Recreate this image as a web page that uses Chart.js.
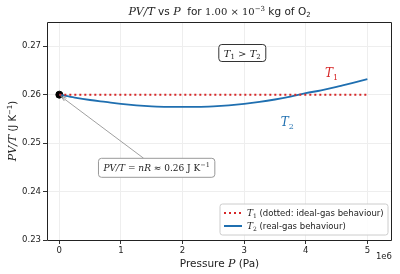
<!DOCTYPE html>
<html lang="en">
<head>
    <meta charset="UTF-8">
    <title>PV/T vs P for O2</title>
    <script src="https://cdn.jsdelivr.net/npm/chart.js"></script>
    <style>
        html, body { margin: 0; padding: 0; background: #fff; }
        #wrap { width: 400px; height: 274px; }
    </style>
</head>
<body>
    <div id="wrap"><canvas id="pvt-chart"></canvas></div>

    <script>
        // Data
        const pressure = [0, 0.25e6, 0.5e6, 0.75e6, 1e6, 1.25e6, 1.5e6, 1.75e6, 2e6, 2.25e6, 2.5e6,
                          2.75e6, 3e6, 3.25e6, 3.5e6, 3.75e6, 4e6, 4.25e6, 4.5e6, 4.75e6, 5e6];
        const pvtReal = [0.2600, 0.2594, 0.2589, 0.2585, 0.2581, 0.2578, 0.2576, 0.2575, 0.2575, 0.2575, 0.2576,
                         0.2578, 0.2581, 0.2585, 0.2590, 0.2596, 0.2603, 0.2609, 0.2616, 0.2624, 0.2632];
        const idealP = [0, 5e6];
        const idealPVT = [0.26, 0.26];
        const xTicks = [0, 1e6, 2e6, 3e6, 4e6, 5e6];
        const yTicks = [0.23, 0.24, 0.25, 0.26, 0.27];

        const RED = '#d62728';
        const BLUE = '#1f6fb0';
        const SANS = '"DejaVu Sans", sans-serif';
        const SERIF = '"DejaVu Serif", serif';

        // draw a list of text runs: [text, font, dy]
        function drawRuns(ctx, runs, x, y, align, color) {
            let w = 0;
            runs.forEach(r => { ctx.font = r[1]; w += ctx.measureText(r[0]).width; });
            let cx = align === 'center' ? x - w / 2 : (align === 'right' ? x - w : x);
            ctx.fillStyle = color || '#222';
            ctx.textBaseline = 'alphabetic';
            ctx.textAlign = 'left';
            runs.forEach(r => {
                ctx.font = r[1];
                ctx.fillText(r[0], cx, y + (r[2] || 0));
                cx += ctx.measureText(r[0]).width;
            });
            return w;
        }

        function roundBox(ctx, x, y, w, h, r) {
            ctx.beginPath();
            ctx.moveTo(x + r, y);
            ctx.arcTo(x + w, y, x + w, y + h, r);
            ctx.arcTo(x + w, y + h, x, y + h, r);
            ctx.arcTo(x, y + h, x, y, r);
            ctx.arcTo(x, y, x + w, y, r);
            ctx.closePath();
        }

        const decor = {
            id: 'decor',
            afterDraw(chart) {
                const ctx = chart.ctx;
                const a = chart.chartArea;
                const xs = chart.scales.x, ys = chart.scales.y;
                ctx.save();
                ctx.setLineDash([]);

                // frame
                const fl = Math.round(a.left) + 0.5, ft = Math.round(a.top) + 0.5;
                const fr = Math.round(a.right) - 0.5, fb = Math.round(a.bottom) + 0.5;
                ctx.strokeStyle = '#222';
                ctx.lineWidth = 1;
                ctx.beginPath();
                ctx.moveTo(fl, ft);
                ctx.lineTo(fr, ft);
                ctx.lineTo(fr, fb);
                ctx.lineTo(fl, fb);
                ctx.closePath();
                ctx.stroke();

                // title
                const it = 'italic 11px ' + SERIF;
                drawRuns(ctx, [
                    ['PV/T', it], [' vs ', '10.5px ' + SANS], ['P', it], ['  for ', '10.5px ' + SANS],
                    ['1.00 \u00d7 10', '10px ' + SERIF], ['\u22123', '7px ' + SERIF, -4],
                    [' kg of O', '10.5px ' + SANS], ['2', '7px ' + SANS, 2]
                ], (a.left + a.right) / 2, 15, 'center', '#222');

                // x label
                drawRuns(ctx, [['Pressure ', '10.5px ' + SANS], ['P', it], [' (Pa)', '10.5px ' + SANS]],
                    (a.left + a.right) / 2, 267, 'center', '#222');
                ctx.font = '8.5px ' + SANS;
                ctx.fillStyle = '#222';
                ctx.textAlign = 'right';
                ctx.fillText('1e6', a.right, 259);

                // y label
                ctx.save();
                ctx.translate(16, (a.top + a.bottom) / 2);
                ctx.rotate(-Math.PI / 2);
                drawRuns(ctx, [['PV/T', it], [' (J K', '10px ' + SANS], ['\u22121', '7px ' + SANS, -4], [')', '10px ' + SANS]],
                    0, 0, 'center', '#222');
                ctx.restore();

                // nR annotation with arrow
                const px = xs.getPixelForValue(0), py = ys.getPixelForValue(0.26);
                const bx = xs.getPixelForValue(1.58e6), by = ys.getPixelForValue(0.2448);
                ctx.strokeStyle = '#888';
                ctx.lineWidth = 0.8;
                ctx.beginPath();
                ctx.moveTo(bx - 13, by - 10);
                ctx.lineTo(px + 2, py + 2);
                ctx.stroke();
                const ang = Math.atan2((by - 10) - py, (bx - 13) - px);
                ctx.beginPath();
                ctx.moveTo(px + 1.5, py + 1.5);
                ctx.lineTo(px + 1.5 + 6 * Math.cos(ang + 0.3), py + 1.5 + 6 * Math.sin(ang + 0.3));
                ctx.moveTo(px + 1.5, py + 1.5);
                ctx.lineTo(px + 1.5 + 6 * Math.cos(ang - 0.3), py + 1.5 + 6 * Math.sin(ang - 0.3));
                ctx.stroke();

                const mi = 'italic 9px ' + SERIF, mr = '9px ' + SERIF;
                const nrRuns = [['PV/T', mi], [' = ', mr], ['nR', mi], [' \u2248 0.26 J K', mr], ['\u22121', '6.5px ' + SERIF, -4]];
                let w = 0;
                nrRuns.forEach(r => { ctx.font = r[1]; w += ctx.measureText(r[0]).width; });
                roundBox(ctx, bx - w / 2 - 5, by - 10, w + 10, 19, 3);
                ctx.fillStyle = '#fff';
                ctx.fill();
                ctx.strokeStyle = '#999';
                ctx.lineWidth = 1;
                ctx.stroke();
                drawRuns(ctx, nrRuns, bx, by + 3, 'center', '#222');

                // T1 > T2 box
                const tx = xs.getPixelForValue(2.97e6), ty = ys.getPixelForValue(0.2686);
                const tRuns = [['T', 'italic 10px ' + SERIF], ['1', '7px ' + SERIF, 2], [' > ', '10px ' + SERIF],
                               ['T', 'italic 10px ' + SERIF], ['2', '7px ' + SERIF, 2]];
                w = 0;
                tRuns.forEach(r => { ctx.font = r[1]; w += ctx.measureText(r[0]).width; });
                roundBox(ctx, tx - w / 2 - 5, ty - 8.5, w + 10, 17, 3);
                ctx.fillStyle = '#fff';
                ctx.fill();
                ctx.strokeStyle = '#333';
                ctx.lineWidth = 1;
                ctx.stroke();
                drawRuns(ctx, tRuns, tx, ty + 3.5, 'center', '#222');

                // curve labels
                drawRuns(ctx, [['T', 'italic 12px ' + SERIF], ['1', '8px ' + SERIF, 3]],
                    xs.getPixelForValue(4.42e6), ys.getPixelForValue(0.2637), 'center', RED);
                drawRuns(ctx, [['T', 'italic 12px ' + SERIF], ['2', '8px ' + SERIF, 3]],
                    xs.getPixelForValue(3.7e6), ys.getPixelForValue(0.2535), 'center', BLUE);

                // legend
                const lx = a.right - 172, ly = a.bottom - 36;
                roundBox(ctx, lx, ly, 168, 31, 2.5);
                ctx.fillStyle = 'rgba(255,255,255,0.85)';
                ctx.fill();
                ctx.strokeStyle = '#ccc';
                ctx.lineWidth = 1;
                ctx.stroke();
                ctx.lineWidth = 2;
                ctx.strokeStyle = RED;
                ctx.setLineDash([2, 3]);
                ctx.beginPath();
                ctx.moveTo(lx + 4, ly + 9);
                ctx.lineTo(lx + 22, ly + 9);
                ctx.stroke();
                ctx.setLineDash([]);
                ctx.strokeStyle = BLUE;
                ctx.beginPath();
                ctx.moveTo(lx + 4, ly + 22);
                ctx.lineTo(lx + 22, ly + 22);
                ctx.stroke();
                const lf = '8.5px ' + SANS;
                drawRuns(ctx, [['T', 'italic 9px ' + SERIF], ['1', '6px ' + SERIF, 2], [' (dotted: ideal-gas behaviour)', lf]],
                    lx + 27, ly + 12, 'left', '#222');
                drawRuns(ctx, [['T', 'italic 9px ' + SERIF], ['2', '6px ' + SERIF, 2], [' (real-gas behaviour)', lf]],
                    lx + 27, ly + 25, 'left', '#222');

                ctx.restore();
            }
        };

        new Chart(document.getElementById('pvt-chart'), {
            type: 'scatter',
            data: {
                datasets: [
                    {
                        data: idealP.map((p, i) => ({ x: p, y: idealPVT[i] })),
                        showLine: true, borderColor: RED, borderWidth: 2,
                        borderDash: [2, 3], pointRadius: 0
                    },
                    {
                        data: pressure.map((p, i) => ({ x: p, y: pvtReal[i] })),
                        showLine: true, borderColor: BLUE, borderWidth: 1.8,
                        cubicInterpolationMode: 'monotone', pointRadius: 0
                    },
                    {
                        data: [{ x: 0, y: 0.26 }],
                        pointRadius: 3.5, backgroundColor: '#000', borderColor: '#000'
                    }
                ]
            },
            options: {
                responsive: true,
                maintainAspectRatio: false,
                animation: false,
                layout: { padding: { left: 0, right: 8, top: 22, bottom: 0 } },
                plugins: { legend: { display: false }, tooltip: { enabled: false } },
                scales: {
                    x: {
                        type: 'linear', min: -0.2e6, max: 5.4e6,
                        afterBuildTicks: s => { s.ticks = xTicks.map(v => ({ value: v })); },
                        afterFit: s => { s.height = 34; },
                        ticks: { callback: v => String(v / 1e6), font: { family: SANS, size: 8.5 }, color: '#222', padding: 2, maxRotation: 0 },
                        grid: { color: '#eeeeee', tickColor: '#333', tickLength: 4 },
                        border: { display: false }
                    },
                    y: {
                        type: 'linear', min: 0.23, max: 0.275,
                        afterBuildTicks: s => { s.ticks = yTicks.map(v => ({ value: v })); },
                        afterFit: s => { s.width = 47; },
                        ticks: { callback: v => v.toFixed(2), font: { family: SANS, size: 8.5 }, color: '#222', padding: 2 },
                        grid: { color: '#eeeeee', tickColor: '#333', tickLength: 4 },
                        border: { display: false }
                    }
                }
            },
            plugins: [decor]
        });
    </script>
</body>
</html>
